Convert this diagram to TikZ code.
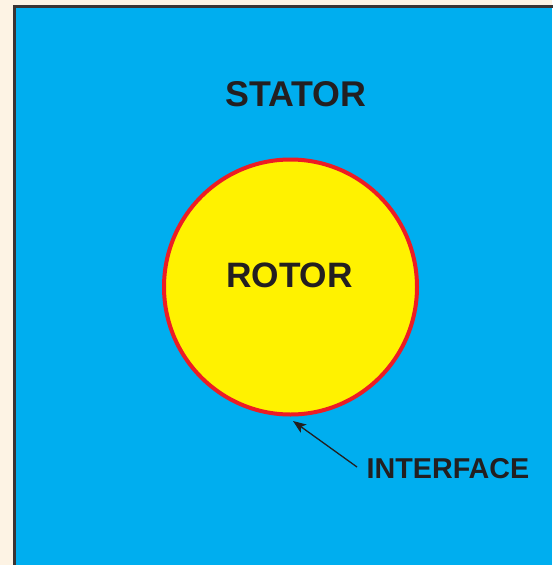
\documentclass[tikz,border=0pt]{standalone}
\usepackage{fontspec}
\setmainfont{Liberation Sans}
\usetikzlibrary{arrows.meta,shapes.geometric}
\definecolor{cream}{HTML}{FDF3E4}
\definecolor{statorblue}{HTML}{00AEEF}
\definecolor{rotoryellow}{HTML}{FFF200}
\definecolor{rotorred}{HTML}{ED1C24}
\definecolor{darktext}{HTML}{231F20}
\definecolor{frame}{HTML}{3A3434}
\tikzset{
  label text/.style={text=darktext, font=\bfseries\fontsize{#1}{#1}\selectfont, inner sep=0pt},
}
\begin{document}
\begin{tikzpicture}[x=1pt,y=-1pt]
\useasboundingbox (0,0) rectangle (552,565);
\fill[cream] (0,0) rectangle (552,565);
\fill[statorblue] (14,6) rectangle (552,565);
\draw[frame, line width=2.6pt] (14.3,566) -- (14.3,6.3) -- (553,6.3);
\node[ellipse, fill=rotoryellow, draw=rotorred, line width=4pt, minimum width=253pt, minimum height=255pt, inner sep=0pt] (rotor) at (290.5,287) {};
\node[label text=35.8] (stator) at (296,94) {STATOR};
\node[label text=35.3] (rotortext) at (289.5,275) {ROTOR};
\node[label text=28.7] (interface) at (448,469) {INTERFACE};
\coordinate (tail) at (357,467);
\coordinate (tip) at (293,421);
\draw[darktext, line width=1.3pt, -{Stealth[length=13pt,width=10pt,inset=3pt]}] (tail) -- (tip);
\end{tikzpicture}
\end{document}
